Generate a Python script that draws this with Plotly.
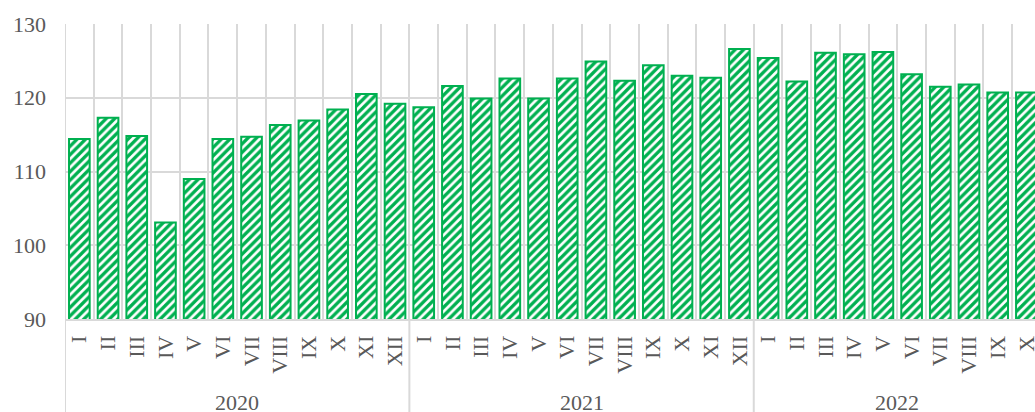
import plotly.graph_objects as go

years = ["2020", "2021", "2022"]
months_2020 = ["I", "II", "III", "IV", "V", "VI", "VII", "VIII", "IX", "X", "XI", "XII"]
months_2021 = ["I", "II", "III", "IV", "V", "VI", "VII", "VIII", "IX", "X", "XI", "XII"]
months_2022 = ["I", "II", "III", "IV", "V", "VI", "VII", "VIII", "IX", "X"]
values_2020 = [114.4, 117.3, 114.8, 103.1, 109.0, 114.4, 114.7, 116.3, 116.9, 118.4, 120.5, 119.2]
values_2021 = [118.7, 121.6, 119.9, 122.6, 119.9, 122.6, 124.9, 122.3, 124.4, 123.0, 122.7, 126.6]
values_2022 = [125.4, 122.2, 126.1, 125.9, 126.2, 123.2, 121.5, 121.8, 120.7, 120.7]

groups = [months_2020, months_2021, months_2022]
labels = months_2020 + months_2021 + months_2022
values = values_2020 + values_2021 + values_2022
xs = list(range(len(values)))

GREEN = "#00B050"
GRID = "#D9D9D9"
TXT = "#595959"
FONT = "Liberation Serif, Times New Roman, serif"

fig = go.Figure()
fig.add_trace(go.Bar(
    x=xs, y=values, width=0.72,
    marker=dict(color="white",
                line=dict(color=GREEN, width=2),
                pattern=dict(shape="/", fgcolor=GREEN, bgcolor="white",
                             size=6, solidity=0.55, fillmode="replace")),
    hoverinfo="y",
))

H_PLOT = 295
B = 93
ybot = -B / H_PLOT

start = 0
shapes = []
annotations = []
for yr, g in zip(years, groups):
    n = len(g)
    shapes.append(dict(type="line", xref="x", yref="paper", x0=start - 0.5, x1=start - 0.5,
                       y0=ybot, y1=1 if start == 0 else 0, line=dict(color=GRID, width=2), layer="below"))
    annotations.append(dict(x=start + (n - 1) / 2, y=-0.282, xref="x", yref="paper",
                            text=yr, showarrow=False, yanchor="middle",
                            font=dict(family=FONT, size=22, color=TXT)))
    start += n
shapes.append(dict(type="line", xref="x", yref="paper", x0=start - 0.5, x1=start - 0.5,
                   y0=ybot, y1=0, line=dict(color=GRID, width=2), layer="below"))

fig.update_layout(
    width=1035, height=412,
    margin=dict(l=65, r=0, t=24, b=B),
    plot_bgcolor="white", paper_bgcolor="white",
    showlegend=False, bargap=0.28,
    shapes=shapes, annotations=annotations,
    font=dict(family=FONT, size=22, color=TXT),
)
fig.update_xaxes(
    range=[-0.5, 33.3], tickmode="array", tickvals=xs, ticktext=labels,
    tickangle=-90, showgrid=False, ticks="", ticklabelstandoff=6, automargin=False,
    ticklabeloverflow="allow",
    showline=True, linecolor=GRID, linewidth=2,
    minor=dict(showgrid=True, tick0=0.5, dtick=1, gridcolor=GRID, gridwidth=2),
    tickfont=dict(family=FONT, size=22, color=TXT), zeroline=False,
)
fig.update_yaxes(
    range=[90, 130], dtick=10, showgrid=True, gridcolor=GRID, gridwidth=2,
    ticks="", ticklabelstandoff=18, zeroline=False, automargin=False,
    tickfont=dict(family=FONT, size=22, color=TXT),
)
fig.write_html("out.html", config={"displayModeBar": False},
               post_script="document.body.style.margin='0';document.body.style.overflow='hidden';")
